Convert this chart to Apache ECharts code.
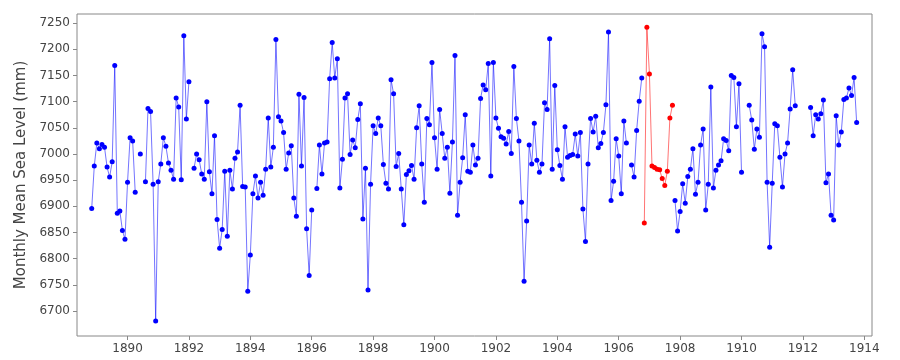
<!DOCTYPE html>
<html>
<head>
<meta charset="utf-8">
<script src="https://cdn.jsdelivr.net/npm/echarts@6/dist/echarts.min.js"></script>
<style>html,body{margin:0;padding:0;background:#fff}#c{width:900px;height:360px}</style>
</head>
<body>
<div id="c"></div>
<script>
// Monthly series, first month = Nov 1888 (index 0)
var startYear = 1888 + 10 / 12;
var blueValues = [
6896,6977,7021,7010,7018,7013,6975,6956,6985,7169,6887,6891,6854,6837,6946,7031,7025,6927,null,7000,
null,6947,7087,7081,6942,6681,6947,6981,7031,7015,6983,6969,6952,7107,7090,6951,7226,7067,7138,null,
6973,7000,6989,6962,6952,7100,6966,6924,7035,6875,6820,6856,6967,6843,6969,6933,6992,7004,7093,6938,
6937,6738,6807,6924,6958,6916,6946,6921,6971,7069,6975,7013,7219,7071,7063,7041,6971,7002,7016,6916,
6881,7114,6977,7108,6857,6768,6893,null,6934,7017,6962,7021,7023,7144,7213,7145,7182,6935,6990,7107,
7115,6999,7027,7012,7066,7096,6876,6973,6740,6942,7054,7039,7069,7054,6980,6944,6933,7142,7115,6976,
7001,6933,6865,6961,6968,6978,6952,7050,7092,6981,6908,7068,7056,7175,7031,6971,7085,7039,6992,7013,
6925,7023,7188,6883,6946,6993,7075,6967,6965,7017,6979,6992,7106,7132,7123,7173,6958,7175,7069,7049,
7033,7030,7019,7043,7001,7167,7068,7025,6908,6757,6872,7017,6981,7059,6988,6965,6981,7098,7085,7220,
6971,7131,7008,6978,6952,7052,6994,6997,6999,7038,6996,7041,6895,6833,6981,7068,7042,7072,7012,7020,
7041,7094,7233,6911,6948,7029,6996,6924,7063,7021,null,6979,6956,7045,7101,7145,null,null,null,null,
null,null,null,null,null,null,null,null,6911,6853,6890,6943,6906,6957,6971,7010,6923,6946,7017,7048,
6893,6942,7128,6935,6969,6979,6987,7029,7026,7006,7150,7146,7052,7134,6965,null,null,7093,7065,7009,
7048,7032,7230,7205,6946,6822,6944,7058,7054,6994,6937,7000,7021,7086,7161,7092,null,null,null,null,
null,7089,7035,7075,7067,7077,7103,6945,6962,6883,6874,7073,7017,7042,7104,7107,7126,7112,7146,7060
];
var redStartIndex = 216;
var redValues = [6868,7242,7153,6977,6974,6971,6970,6953,6940,6967,7069,7093];
var xTicks = [1890,1892,1894,1896,1898,1900,1902,1904,1906,1908,1910,1912,1914];
var yTicks = [6700,6750,6800,6850,6900,6950,7000,7050,7100,7150,7200,7250];
var yName = 'Monthly Mean Sea Level (mm)';

function toPairs(vals, offset) {
  return vals.map(function (v, i) { return [startYear + (offset + i) / 12, v]; });
}

var chart = echarts.init(document.getElementById('c'), null, {renderer: 'canvas'});
var font = 'DejaVu Sans';
chart.setOption({
  animation: false,
  grid: {left: 77, right: 28, top: 14, bottom: 24, show: true, borderColor: '#888', borderWidth: 1, backgroundColor: 'transparent'},
  xAxis: {
    type: 'value', min: 1888.354, max: 1914.25,
    axisLine: {show: false},
    splitLine: {show: false},
    axisTick: {show: true, inside: false, length: 4, lineStyle: {color: '#888'}, customValues: xTicks},
    axisLabel: {color: '#444', fontSize: 12, fontFamily: font, margin: 7, customValues: xTicks, formatter: function (v) { return String(Math.round(v)); }}
  },
  yAxis: {
    type: 'value', min: 6652.3, max: 7267.5,
    name: yName, nameLocation: 'middle', nameGap: 46,
    nameTextStyle: {color: '#444', fontSize: 15, fontFamily: font},
    axisLine: {show: false},
    splitLine: {show: false},
    axisTick: {show: true, inside: false, length: 4, lineStyle: {color: '#888'}, customValues: yTicks},
    axisLabel: {color: '#444', fontSize: 12, fontFamily: font, margin: 7, customValues: yTicks, formatter: function (v) { return String(Math.round(v)); }}
  },
  series: [
    {
      type: 'line', data: toPairs(blueValues, 0), connectNulls: false,
      symbol: 'circle', symbolSize: 5, showSymbol: true, showAllSymbol: true,
      lineStyle: {color: 'rgba(0,0,255,0.55)', width: 1},
      itemStyle: {color: '#0000ff'}, z: 2
    },
    {
      type: 'line', data: toPairs(redValues, redStartIndex), connectNulls: false,
      symbol: 'circle', symbolSize: 5, showSymbol: true, showAllSymbol: true,
      lineStyle: {color: 'rgba(255,0,0,0.55)', width: 1},
      itemStyle: {color: '#ff0000'}, z: 3
    }
  ]
});
</script>
</body>
</html>
